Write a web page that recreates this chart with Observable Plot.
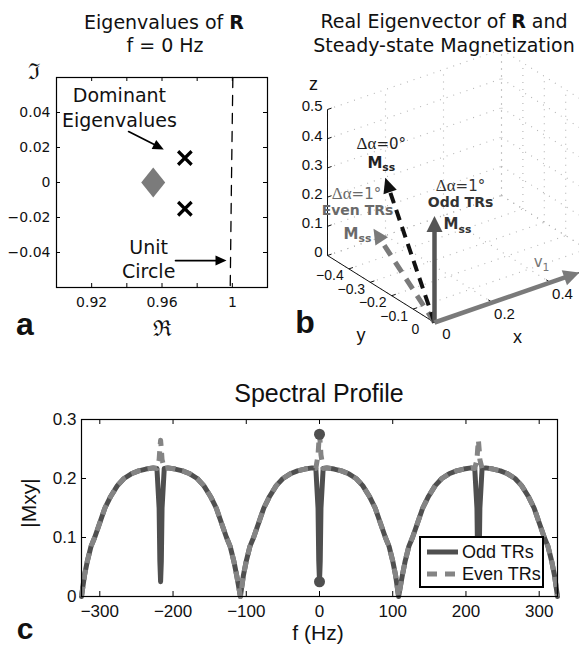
<!DOCTYPE html>
<html><head><meta charset="utf-8">
<script src="https://cdn.jsdelivr.net/npm/d3@7"></script>
<script src="https://cdn.jsdelivr.net/npm/@observablehq/plot@0.6"></script>
<style>
html,body{margin:0;padding:0;background:#fff;}
#fig{position:relative;width:579px;height:645px;overflow:hidden;background:#fff;font-family:"DejaVu Sans",sans-serif;color:#111;}
.t{position:absolute;transform:translate(-50%,-50%);white-space:nowrap;line-height:1;}
</style></head>
<body><div id="fig"></div>
<script>
// ================= DATA =================
// Panel a: eigenvalues of R at f = 0 Hz
const aTicksX = [0.92, 0.94, 0.96, 0.98, 1.0];
const aTickLabelsX = [0.92, 0.96, 1.0];
const aTicksY = [-0.04, -0.02, 0, 0.02, 0.04];
const dominantRe = [0.973, 0.973];
const dominantIm = [0.014, -0.015];
const otherRe = [0.955];
const otherIm = [0];
const unitCircleRe = [1.0003, 0.9995, 0.9988];
const unitCircleIm = [0.06, 0, -0.06];
const aNoteText = ["Dominant", "Eigenvalues", "Unit", "Circle"];
const aNoteRe = [0.9358, 0.9358, 0.9524, 0.9524];
const aNoteIm = [0.0497, 0.0354, -0.0371, -0.0509];
const aArrowRe1 = [0.941, 0.9677];
const aArrowIm1 = [0.0291, -0.0446];
const aArrowRe2 = [0.961, 0.9967];
const aArrowIm2 = [0.0189, -0.0446];

// Panel b: real eigenvector and steady-state magnetization (3D)
const bTicksX = [0, 0.2, 0.4];
const bTicksY = [-0.4, -0.3, -0.2, -0.1, 0];
const bTicksZ = [0, 0.1, 0.2, 0.3, 0.4, 0.5];
const bGridX = [0, 0.2, 0.4, 0.6];
const bGridY = [-0.5, -0.4, -0.3, -0.2, -0.1, 0];
const bGridZ = [0, 0.1, 0.2, 0.3, 0.4, 0.5];
const bLimX = [0, 0.6], bLimY = [-0.5, 0], bLimZ = [0, 0.5];
const vecName = ["dalpha0", "even", "odd", "v1"];
const vecX = [0, 0, 0, 0.5];
const vecY = [-0.23, -0.285, 0, 0];
const vecZ = [0.39, 0.19, 0.365, 0];

// Panel c: spectral profile
const freqHz = [
-325,-321,-317,-312,-307,-300,-293,-285,-276,-267,-257,-247,-237,-227,-222,
-219,-218,-217,-216,-215,
-212,-207,-197,-187,-177,-167,-158,-149,-141,-134,-127,-122,-117,-113,-108,
-104,-100,-95,-90,-83,-76,-68,-59,-50,-40,-30,-20,-10,-5,
-2,-1,0,1,2,
5,10,20,30,40,50,59,68,76,83,90,95,100,104,108,
113,117,122,127,134,141,149,158,167,177,187,197,207,212,
215,216,217,218,219,
222,227,237,247,257,267,276,285,293,300,307,312,317,321,325];
const oddTRs = [
0,.035,.06,.085,.1,.125,.15,.17,.188,.2,.208,.213,.216,.218,.217,
.15,.06,.025,.06,.15,
.217,.218,.216,.213,.208,.2,.188,.17,.15,.125,.1,.085,.06,.035,0,
.035,.06,.085,.1,.125,.15,.17,.188,.2,.208,.213,.216,.218,.217,
.15,.06,.025,.06,.15,
.217,.218,.216,.213,.208,.2,.188,.17,.15,.125,.1,.085,.06,.035,0,
.035,.06,.085,.1,.125,.15,.17,.188,.2,.208,.213,.216,.218,.217,
.15,.06,.025,.06,.15,
.217,.218,.216,.213,.208,.2,.188,.17,.15,.125,.1,.085,.06,.035,0];
const evenTRs = [
0,.035,.06,.085,.1,.125,.15,.17,.188,.2,.208,.213,.216,.218,.217,
.232,.25,.265,.25,.232,
.217,.218,.216,.213,.208,.2,.188,.17,.15,.125,.1,.085,.06,.035,0,
.035,.06,.085,.1,.125,.15,.17,.188,.2,.208,.213,.216,.218,.217,
.24,.26,.275,.26,.24,
.217,.218,.216,.213,.208,.2,.188,.17,.15,.125,.1,.085,.06,.035,0,
.035,.06,.085,.1,.125,.15,.17,.188,.2,.208,.213,.216,.218,.217,
.232,.25,.265,.25,.232,
.217,.218,.216,.213,.208,.2,.188,.17,.15,.125,.1,.085,.06,.035,0];
const onResF = [0, 0];
const onResV = [0.275, 0.025];
const cTicksX = [-300, -200, -100, 0, 100, 200, 300];
const cTicksY = [0, 0.1, 0.2, 0.3];
const legendLabels = ["Odd TRs", "Even TRs"];

// ================= HELPERS =================
const fig = document.getElementById("fig");
function placeSvg(svg, left, top) {
  svg.style.position = "absolute"; svg.style.left = left + "px"; svg.style.top = top + "px";
  fig.appendChild(svg);
}
function htmlText(html, cx, cy, css) {
  const d = document.createElement("div");
  d.className = "t"; d.innerHTML = html;
  d.style.left = cx + "px"; d.style.top = cy + "px";
  Object.assign(d.style, css || {});
  fig.appendChild(d); return d;
}
function arrowHead(angle, len, hw) {
  const c = Math.cos(angle), s = Math.sin(angle);
  const p = [[0, 0], [-len, -hw], [-len, hw]].map(([u, v]) => [u * c - v * s, u * s + v * c]);
  return {draw(ctx) { ctx.moveTo(p[0][0], p[0][1]); ctx.lineTo(p[1][0], p[1][1]); ctx.lineTo(p[2][0], p[2][1]); ctx.closePath(); }};
}
const diamondSym = {draw(ctx, size) { const r = Math.sqrt(size / Math.PI);
  ctx.moveTo(0, -r); ctx.lineTo(0.8 * r, 0); ctx.lineTo(0, r); ctx.lineTo(-0.8 * r, 0); ctx.closePath(); }};
const minus = s => String(s).replace("-", "\u2212");

// ================= PANEL A =================
{
  const W = 290, H = 345, mL = 56, mR = 23, mT = 77, mB = 58;
  const xDom = [0.9, 1.02], yDom = [-0.06, 0.06];
  const sx = d3.scaleLinear(xDom, [mL, W - mR]), sy = d3.scaleLinear(yDom, [H - mB, mT]);
  const iH = H - mT - mB, iW = W - mL - mR;
  const circle = unitCircleRe.map((re, i) => ({re, im: unitCircleIm[i]}));
  const dom = dominantRe.map((re, i) => ({re, im: dominantIm[i]}));
  const other = otherRe.map((re, i) => ({re, im: otherIm[i]}));
  const notes = aNoteText.map((t, i) => ({t, re: aNoteRe[i], im: aNoteIm[i]}));
  const arrows = aArrowRe1.map((_, i) => ({x1: aArrowRe1[i], y1: aArrowIm1[i], x2: aArrowRe2[i], y2: aArrowIm2[i]}));
  const svg = Plot.plot({
    width: W, height: H, marginLeft: mL, marginRight: mR, marginTop: mT, marginBottom: mB,
    x: {domain: xDom}, y: {domain: yDom},
    style: {fontFamily: "DejaVu Sans", fontSize: "14px", color: "#111", background: "transparent", overflow: "visible"},
    marks: [
      Plot.line(circle, {x: "re", y: "im", stroke: "#000", strokeWidth: 1.3, strokeDasharray: "10,8"}),
      Plot.tickX(aTicksX, {x: d => d, insetTop: iH - 4, stroke: "#000"}),
      Plot.tickX(aTicksX, {x: d => d, insetBottom: iH - 4, stroke: "#000"}),
      Plot.tickY(aTicksY, {y: d => d, insetRight: iW - 4, stroke: "#000"}),
      Plot.tickY(aTicksY, {y: d => d, insetLeft: iW - 4, stroke: "#000"}),
      Plot.axisX({ticks: aTickLabelsX, tickSize: 0, tickPadding: 10, label: null, tickFormat: d => String(+d.toFixed(2))}),
      Plot.axisY({ticks: aTicksY, tickSize: 0, tickPadding: 6, label: null, tickFormat: d => d === 0 ? "0" : minus(d.toFixed(2))}),
      Plot.frame({stroke: "#000", strokeWidth: 1.2}),
      Plot.dot(other, {x: "re", y: "im", symbol: diamondSym, r: 15, fill: "#7b7b7b", stroke: "none"}),
      Plot.dot(dom, {x: "re", y: "im", symbol: "times", r: 6.2, stroke: "#000", strokeWidth: 3.2}),
      Plot.text(notes, {x: "re", y: "im", text: "t", fontSize: 19, fill: "#111"}),
      Plot.arrow(arrows, {x1: "x1", y1: "y1", x2: "x2", y2: "y2", headLength: 0, insetEnd: 9, stroke: "#000", strokeWidth: 1.7}),
      ...arrows.map(a => Plot.dot([a], {x: "x2", y: "y2", stroke: "none", fill: "#000",
        symbol: arrowHead(Math.atan2(sy(a.y2) - sy(a.y1), sx(a.x2) - sx(a.x1)), 11, 5)}))
    ]
  });
  placeSvg(svg, 0, 0);
}

// ================= PANEL B =================
{
  const W = 289, H = 365;
  const O = [144, 322], EX = [290, -100], EY = [214, 134], EZ = [0, -292];
  const P = (x, y, z) => [O[0] + x * EX[0] + y * EY[0] + z * EZ[0], O[1] + x * EX[1] + y * EY[1] + z * EZ[1]];
  const seg = (a, b) => { const p = P(...a), q = P(...b); return {x1: p[0], y1: p[1], x2: q[0], y2: q[1]}; };
  const grid = [];
  // back wall y = ymin
  bGridX.forEach(g => grid.push(seg([g, bLimY[0], bLimZ[0]], [g, bLimY[0], bLimZ[1]])));
  bGridZ.forEach(g => grid.push(seg([bLimX[0], bLimY[0], g], [bLimX[1], bLimY[0], g])));
  // back wall x = xmax
  bGridY.forEach(g => grid.push(seg([bLimX[1], g, bLimZ[0]], [bLimX[1], g, bLimZ[1]])));
  bGridZ.forEach(g => grid.push(seg([bLimX[1], bLimY[0], g], [bLimX[1], bLimY[1], g])));
  // floor z = 0
  bGridX.forEach(g => grid.push(seg([g, bLimY[0], 0], [g, bLimY[1], 0])));
  bGridY.forEach(g => grid.push(seg([bLimX[0], g, 0], [bLimX[1], g, 0])));
  const axes = [
    seg([0, bLimY[0], 0], [0, bLimY[0], bLimZ[1]]),
    seg([0, 0, 0], [0, bLimY[0], 0]),
    seg([0, 0, 0], [bLimX[1], 0, 0])
  ];
  const ticks = [
    ...bTicksZ.map(z => seg([0, bLimY[0], z], [0.014, bLimY[0], z])),
    ...bTicksY.map(y => seg([0, y, 0], [0.014, y, 0])),
    ...bTicksX.map(x => seg([x, 0, 0], [x, -0.02, 0]))
  ];
  const pt = (x, y, z, text) => { const p = P(x, y, z); return {x: p[0], y: p[1], text}; };
  const zLab = bTicksZ.map(z => pt(0, bLimY[0], z, String(z)));
  const yLab = bTicksY.map(y => pt(0, y, 0, minus(y)));
  const xLab = bTicksX.map(x => pt(x, 0, 0, String(x)));
  const tips = vecName.map((n, i) => { const p = P(vecX[i], vecY[i], vecZ[i]); return {name: n, x: p[0], y: p[1], x0: O[0], y0: O[1]}; });
  const vstyle = {
    even: {stroke: "#7a7a7a", sw: 5, dash: "12,8", len: 15, hw: 7.5},
    dalpha0: {stroke: "#111", sw: 4, dash: "11,7", len: 15, hw: 7},
    odd: {stroke: "#555", sw: 4.5, dash: null, len: 16, hw: 8},
    v1: {stroke: "#7a7a7a", sw: 4.5, dash: null, len: 16, hw: 8}
  };
  const order = ["even", "dalpha0", "odd", "v1"];
  const vecMarks = [];
  order.forEach(n => {
    const t = tips.find(d => d.name === n), s = vstyle[n];
    vecMarks.push(Plot.arrow([t], {x1: "x0", y1: "y0", x2: "x", y2: "y", headLength: 0, insetEnd: s.len - 3,
      stroke: s.stroke, strokeWidth: s.sw, strokeDasharray: s.dash || undefined, strokeLinecap: "butt"}));
    vecMarks.push(Plot.dot([t], {x: "x", y: "y", fill: s.stroke, stroke: "none",
      symbol: arrowHead(Math.atan2(t.y - t.y0, t.x - t.x0), s.len, s.hw)}));
  });
  const tip = n => [tips.find(d => d.name === n)];
  const lab = (n, text, dx, dy, o) => Plot.text(tip(n), {x: "x", y: "y", text: () => text, dx, dy, fontFamily: "DejaVu Sans", ...o});
  const axTitle = (x, y, z, text, dx, dy) => Plot.text([pt(x, y, z, text)], {x: "x", y: "y", text: "text", dx, dy, fontSize: 18, fontFamily: "Liberation Sans", fill: "#111"});
  const svg = Plot.plot({
    width: W, height: H, margin: 0,
    x: {domain: [0, W], range: [0, W], axis: null},
    y: {domain: [0, H], range: [0, H], axis: null},
    style: {fontFamily: "Liberation Sans", fontSize: "14px", color: "#111", background: "transparent", overflow: "hidden"},
    marks: [
      Plot.link(grid, {x1: "x1", y1: "y1", x2: "x2", y2: "y2", stroke: "#b4b4b4", strokeWidth: 1.1, strokeDasharray: "1,6"}),
      Plot.link(axes, {x1: "x1", y1: "y1", x2: "x2", y2: "y2", stroke: "#111", strokeWidth: 1}),
      Plot.link(ticks, {x1: "x1", y1: "y1", x2: "x2", y2: "y2", stroke: "#111", strokeWidth: 1}),
      Plot.text(zLab, {x: "x", y: "y", text: "text", dx: -5, dy: -3, textAnchor: "end", fontSize: 15}),
      Plot.text(yLab, {x: "x", y: "y", text: "text", dx: -19, dy: 7, fontSize: 14}),
      Plot.text(xLab, {x: "x", y: "y", text: "text", dx: 12, dy: 12, fontSize: 15}),
      axTitle(0.3, 0, 0, "x", -4, 45),
      axTitle(0, -0.25, 0, "y", -20, 46),
      axTitle(0, bLimY[0], 0.55, "z", -14, -11),
      ...vecMarks,
      lab("dalpha0", "Δα=0°", -4, -34, {fontSize: 15, fill: "#222"}),
      lab("dalpha0", "Mss", -4, -15, {fontSize: 15, fontWeight: "bold", fill: "#222"}),
      lab("even", "Δα=1°", -17, -35, {fontSize: 15, fill: "#6a6a6a"}),
      lab("even", "Even TRs", -16, -18, {fontSize: 14, fontWeight: "bold", fill: "#6a6a6a"}),
      lab("even", "Mss", -16, 5, {fontSize: 15, fontWeight: "bold", fill: "#6a6a6a"}),
      lab("odd", "Δα=1°", 26, -30, {fontSize: 15, fill: "#333"}),
      lab("odd", "Odd TRs", 26, -13, {fontSize: 14, fontWeight: "bold", fill: "#333"}),
      lab("odd", "Mss", 23, 8, {fontSize: 15, fontWeight: "bold", fill: "#333"}),
      lab("v1", "v1", -38, -10, {fontSize: 15, fill: "#777"})
    ]
  });
  // subscripts and serif Greek
  const NS = "http://www.w3.org/2000/svg";
  svg.querySelectorAll("text").forEach(el => {
    const s = el.textContent;
    const sub = (main, small) => {
      el.textContent = main;
      const ts = document.createElementNS(NS, "tspan");
      ts.setAttribute("font-size", "0.72em"); ts.setAttribute("dy", "0.35em"); ts.textContent = small;
      el.appendChild(ts);
    };
    if (s === "Mss") sub("M", "ss");
    else if (s === "v1") sub("v", "1");
    else if (s.startsWith("Δα")) {
      el.textContent = "";
      const g = document.createElementNS(NS, "tspan");
      g.setAttribute("font-family", "Liberation Serif"); g.setAttribute("font-size", "17px"); g.textContent = "Δα";
      el.appendChild(g); el.appendChild(document.createTextNode(s.slice(2)));
    }
  });
  placeSvg(svg, 290, 0);
}

// ================= PANEL C =================
{
  const W = 579, H = 265, mL = 81, mR = 22, mT = 39, mB = 49;
  const iH = H - mT - mB, iW = W - mL - mR;
  const profile = freqHz.map((f, i) => ({f, odd: oddTRs[i], even: evenTRs[i]}));
  const onRes = onResF.map((f, i) => ({f, v: onResV[i]}));
  const svg = Plot.plot({
    width: W, height: H, marginLeft: mL, marginRight: mR, marginTop: mT, marginBottom: mB,
    x: {domain: [-325, 325]}, y: {domain: [0, 0.3]},
    style: {fontFamily: "Liberation Sans", fontSize: "17px", color: "#111", background: "transparent", overflow: "visible"},
    marks: [
      Plot.tickX(cTicksX, {x: d => d, insetTop: iH - 5, stroke: "#000"}),
      Plot.tickX(cTicksX, {x: d => d, insetBottom: iH - 5, stroke: "#000"}),
      Plot.tickY(cTicksY, {y: d => d, insetRight: iW - 5, stroke: "#000"}),
      Plot.tickY(cTicksY, {y: d => d, insetLeft: iW - 5, stroke: "#000"}),
      Plot.line(profile, {x: "f", y: "odd", stroke: "#4f4f4f", strokeWidth: 5}),
      Plot.line(profile, {x: "f", y: "even", stroke: "#848484", strokeWidth: 5, strokeDasharray: "10,7", strokeLinecap: "butt"}),
      Plot.dot(onRes, {x: "f", y: "v", r: 5.5, fill: "#4f4f4f", stroke: "none"}),
      Plot.axisX({ticks: cTicksX, tickSize: 0, tickPadding: 8, label: null, tickFormat: d => minus(d)}),
      Plot.axisY({ticks: cTicksY, tickSize: 0, tickPadding: 5, label: null, tickFormat: d => d === 0 ? "0" : d.toFixed(1)}),
      Plot.frame({stroke: "#000", strokeWidth: 1.2})
    ]
  });
  placeSvg(svg, 0, 380);

  // legend box
  const lg = document.createElement("div");
  Object.assign(lg.style, {position: "absolute", left: "419px", top: "536px", width: "121px", height: "48px",
    border: "2px solid #000", background: "#fff", fontFamily: "Liberation Sans", fontSize: "18px", color: "#111"});
  lg.innerHTML = `<svg width="40" height="48" style="position:absolute;left:0;top:0">
      <line x1="6" x2="37" y1="14" y2="14" stroke="#4f4f4f" stroke-width="5"/>
      <line x1="6" x2="37" y1="36" y2="36" stroke="#848484" stroke-width="5" stroke-dasharray="10,8"/></svg>
    <div style="position:absolute;left:41px;top:14px;transform:translateY(-50%);line-height:1;white-space:nowrap">${legendLabels[0]}</div>
    <div style="position:absolute;left:41px;top:36px;transform:translateY(-50%);line-height:1;white-space:nowrap">${legendLabels[1]}</div>`;
  fig.appendChild(lg);
}

// ================= TITLES / LABELS =================
htmlText("Eigenvalues of <b>R</b>", 164, 22, {fontSize: "19px"});
htmlText("f = 0 Hz", 165, 45, {fontSize: "19px"});
htmlText("Real Eigenvector of <b>R</b> and", 444, 21, {fontSize: "19px"});
htmlText("Steady-state Magnetization", 444, 45, {fontSize: "19px"});
htmlText("ℑ", 34, 72, {fontSize: "22px", fontFamily: "DejaVu Serif"});
htmlText("ℜ", 162, 329, {fontSize: "22px", fontFamily: "DejaVu Serif"});
htmlText("a", 25, 324, {fontSize: "32px", fontWeight: "bold", fontFamily: "Liberation Sans"});
htmlText("b", 305, 322, {fontSize: "32px", fontWeight: "bold", fontFamily: "Liberation Sans"});
htmlText("Spectral Profile", 319, 393, {fontSize: "25px", fontFamily: "Liberation Sans"});
htmlText("|Mxy|", 28, 503, {fontSize: "21px", fontFamily: "Liberation Sans", transform: "translate(-50%,-50%) rotate(-90deg)"});
htmlText("f (Hz)", 318, 632, {fontSize: "21px", fontFamily: "Liberation Sans"});
htmlText("c", 25, 628, {fontSize: "30px", fontWeight: "bold", fontFamily: "Liberation Sans", lineHeight: "0.9"});
</script>
</body></html>
